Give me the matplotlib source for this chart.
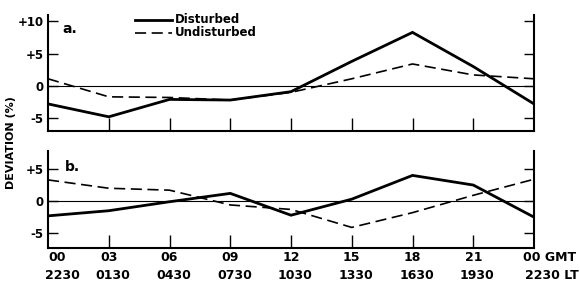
import matplotlib
matplotlib.use('Agg')
import matplotlib.pyplot as plt
import matplotlib.transforms as mtransforms

# hours GMT
hours = [0, 3, 6, 9, 12, 15, 18, 21, 24]
gmt_labels = ['00', '03', '06', '09', '12', '15', '18', '21', '00 GMT']
lt_labels = ['2230', '0130', '0430', '0730', '1030', '1330', '1630', '1930', '2230 LT']

# panel a
a_disturbed = [-2.8, -4.8, -2.1, -2.2, -0.9, 3.8, 8.3, 3.0, -2.8]
a_undisturbed = [1.1, -1.7, -1.8, -2.2, -1.0, 1.1, 3.4, 1.7, 1.1]
# panel b
b_disturbed = [-2.3, -1.5, -0.1, 1.2, -2.2, 0.3, 4.0, 2.5, -2.5]
b_undisturbed = [3.3, 2.0, 1.7, -0.6, -1.3, -4.1, -1.8, 0.9, 3.4]

plt.rcParams['font.family'] = ['DejaVu Sans']
plt.rcParams['font.weight'] = 'bold'
plt.rcParams['lines.scale_dashes'] = False

fig = plt.figure(figsize=(5.8, 2.86), dpi=100)
ax1 = fig.add_axes([0.0828, 0.542, 0.8379, 0.4056])
ax2 = fig.add_axes([0.0828, 0.133, 0.8379, 0.339])


def style(ax, ylim, yticks, ylabels):
    ax.set_xlim(0, 24)
    ax.set_ylim(*ylim)
    ax.axhline(0, color='black', lw=0.8)
    for s in ['left', 'right', 'bottom']:
        ax.spines[s].set_linewidth(1.5)
    ax.spines['top'].set_visible(False)
    ax.set_xticks(hours[1:-1])
    ax.set_xticklabels([])
    ax.tick_params(axis='x', direction='in', length=9.5, width=1.0)
    ax.set_yticks(yticks)
    ax.set_yticklabels(ylabels, fontsize=8.5, fontweight='bold')
    ax.tick_params(axis='y', direction='in', length=7, width=1.0, right=True,
                   pad=3)


style(ax1, (-7, 11), [10, 5, 0, -5], ['+10', '+5', '0', '-5'])
style(ax2, (-7.3, 7.8), [5, 0, -5], ['+5', '0', '-5'])

ax1.plot(hours, a_disturbed, color='black', lw=2.0, solid_joinstyle='miter')
ax1.plot(hours, a_undisturbed, color='black', lw=1.2, dashes=(8, 4))
ax2.plot(hours, b_disturbed, color='black', lw=2.0, solid_joinstyle='miter')
ax2.plot(hours, b_undisturbed, color='black', lw=1.2, dashes=(8, 4))

ax1.text(0.7, 8.9, 'a.', fontsize=10, fontweight='bold', va='center', ha='left')
ax2.text(0.85, 5.3, 'b.', fontsize=10, fontweight='bold', va='center', ha='left')

# legend
ax1.plot([0.179, 0.255], [0.957, 0.957], color='black', lw=2.0,
         transform=ax1.transAxes, clip_on=False)
ax1.plot([0.179, 0.255], [0.845, 0.845], color='black', lw=1.2, dashes=(8, 4),
         transform=ax1.transAxes, clip_on=False)
ax1.text(0.261, 0.965, 'Disturbed', transform=ax1.transAxes, fontsize=8.5,
         fontweight='bold', va='center', ha='left')
ax1.text(0.261, 0.845, 'Undisturbed', transform=ax1.transAxes, fontsize=8.5,
         fontweight='bold', va='center', ha='left')

# x labels, two rows
trans = mtransforms.blended_transform_factory(ax2.transData, ax2.transAxes)
for i, h in enumerate(hours):
    x1 = h
    x2 = h + 0.2
    ha = 'center'
    if i == 0:
        x1 = h + 0.45
        x2 = h + 0.7
    if i == len(hours) - 1:
        x1 = h - 0.55
        x2 = h - 0.45
        ha = 'left'
    ax2.text(x1, -0.095, gmt_labels[i], transform=trans, fontsize=9,
             fontweight='bold', ha=ha, va='center')
    ax2.text(x2, -0.28, lt_labels[i], transform=trans, fontsize=9,
             fontweight='bold', ha=ha, va='center')

fig.text(0.019, 0.503, 'DEVIATION (%)', rotation=90, fontsize=8,
         fontweight='bold', ha='center', va='center')

fig.savefig('out.png', dpi=100)
